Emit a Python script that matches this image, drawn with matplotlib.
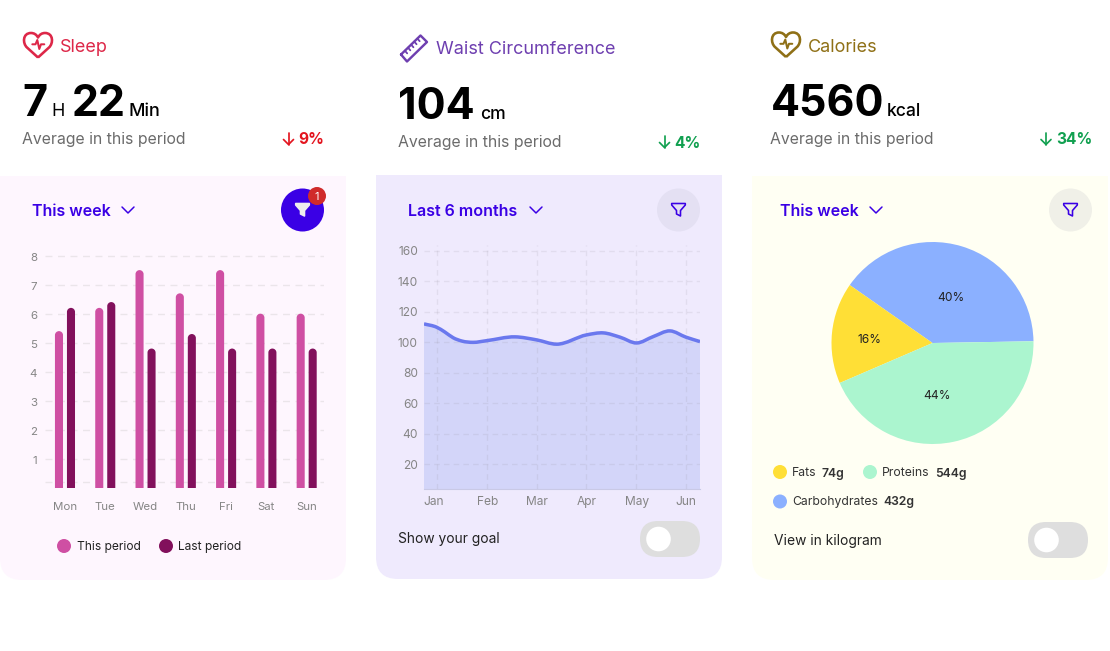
import numpy as np
import matplotlib
matplotlib.use('Agg')
import matplotlib.pyplot as plt
from matplotlib.patches import Circle, FancyBboxPatch, PathPatch, Polygon, Rectangle
from matplotlib.path import Path
from matplotlib.transforms import ScaledTranslation

plt.rcParams['font.family'] = ['Inter', 'DejaVu Sans']

days = ['Mon', 'Tue', 'Wed', 'Thu', 'Fri', 'Sat', 'Sun']
this_period = [5.4, 6.2, 7.5, 6.7, 7.5, 6.0, 6.0]
last_period = [6.2, 6.4, 4.8, 5.3, 4.8, 4.8, 4.8]

months = ['Jan', 'Feb', 'Mar', 'Apr', 'May', 'Jun']
waist_x = [-0.268, -0.012, 0.15, 0.32, 0.5, 0.72, 0.994, 1.563, 2.0, 2.4, 3.006, 3.34, 3.676, 4.012, 4.346, 4.682, 5.004, 5.286]
waist_y = [112.0, 109.8, 106.7, 102.9, 100.7, 99.9, 101.0, 103.5, 101.5, 98.7, 104.8, 106.1, 103.3, 99.5, 103.7, 107.4, 103.3, 100.4]

pie_names = ['Carbohydrates', 'Fats', 'Proteins']
pie_share = [40, 16.2, 43.8]
pie_colors = ['#8BB0FF', '#FFDF36', '#ABF5CF']

W, H = 1110, 651
PINK = '#CF4FA3'
PLUM = '#82105C'
BLUE = '#3A00E5'
GRID = '#EBE5EA'
TICK = '#858585'


def px(v):
    return v * 0.72


fig = plt.figure(figsize=(W / 100, H / 100), dpi=100, facecolor='white')
bg = fig.add_axes([0, 0, 1, 1])
bg.set_xlim(0, W)
bg.set_ylim(H, 0)
bg.axis('off')


def label(x, y, s, size, color='#222222', weight='normal', va='center', ha='left'):
    if va == 'center':
        y = y + 1.5
    bg.text(x, y, s, fontsize=px(size), color=color, fontweight=weight, va=va, ha=ha)


def stroke(points, color, lw=2.0, closed=False):
    pts = np.array(points, dtype=float)
    if closed:
        pts = np.vstack([pts, pts[:1]])
    bg.plot(pts[:, 0], pts[:, 1], color=color, lw=px(lw), solid_capstyle='round', solid_joinstyle='round')


def card(x0, y0, x1, y1, color):
    r = 22
    bg.add_patch(FancyBboxPatch((x0 + r, y0 + r), x1 - x0 - 2 * r, y1 - y0 - 2 * r,
                                boxstyle='round,pad=%d,rounding_size=%d' % (r, r), fc=color, ec='none'))
    bg.add_patch(Rectangle((x0, y0), x1 - x0, 40, fc=color, ec='none'))


def heart(cx, cy, color):
    verts = [(0, 12.5), (-11, 2.5), (-15.5, -1.5), (-15.5, -12), (-7, -12), (-4, -12), (-1.5, -10.5), (0, -7.5),
             (1.5, -10.5), (4, -12), (7, -12), (15.5, -12), (15.5, -1.5), (11, 2.5), (0, 12.5)]
    codes = [Path.MOVETO, Path.LINETO, Path.CURVE4, Path.CURVE4, Path.CURVE4, Path.CURVE4, Path.CURVE4, Path.CURVE4,
             Path.CURVE4, Path.CURVE4, Path.CURVE4, Path.CURVE4, Path.CURVE4, Path.CURVE4, Path.LINETO]
    verts = [(cx + a, cy + b) for a, b in verts]
    bg.add_patch(PathPatch(Path(verts, codes), fc='none', ec=color, lw=px(2.6), joinstyle='round'))
    stroke([(cx - 5.7, cy - 0.7), (cx - 2.5, cy - 0.7), (cx - 0.7, cy - 5), (cx + 1.3, cy + 4), (cx + 3, cy - 0.7),
            (cx + 6.3, cy - 0.7)], color, 2.0)


def ruler(color):
    a, b, c, d = [np.array(p, dtype=float) for p in [(401, 54.5), (420.5, 35.5), (427, 42), (407, 61.5)]]
    stroke([a, b, c, d], color, 2.4, closed=True)
    side = (d - a) / np.linalg.norm(d - a)
    for t in [0.2, 0.36, 0.52, 0.68, 0.84]:
        p = a + (b - a) * t
        stroke([p, p + side * 3.5], color, 1.8)


def chevron(x, y):
    stroke([(x - 6, y - 3), (x, y + 3), (x + 6, y - 3)], BLUE, 1.5)


def arrow(x, y, color):
    stroke([(x, y - 6), (x, y + 6)], color, 1.7)
    stroke([(x - 5, y + 1), (x, y + 6), (x + 5, y + 1)], color, 1.7)


def funnel(cx, cy, fc, ec):
    pts = [(-6.8, -6), (6.8, -6), (6.8, -4.5), (2, 1), (2, 6.5), (-2, 4.5), (-2, 1), (-6.8, -4.5)]
    bg.add_patch(Polygon([(cx + a, cy + b) for a, b in pts], closed=True, fc=fc, ec=ec, lw=px(1.6), joinstyle='round'))


def toggle(x0, y0):
    bg.add_patch(FancyBboxPatch((x0 + 18, y0 + 18), 24, 0, boxstyle='round,pad=18,rounding_size=18', fc='#DEDEDE', ec='none'))
    bg.add_patch(Circle((x0 + 18.5, y0 + 18), 12.3, fc='white', ec='none'))


def header(x, big_y, parts, avg_y, pct, pct_x, arrow_x, pcolor):
    for px_x, text, size, weight in parts:
        label(px_x, big_y, text, size, '#000000', weight, va='baseline')
    label(x, avg_y, 'Average in this period', 15.8, '#6B6B6B')
    label(pct_x, avg_y + 0.5, pct, 15.5, pcolor, 'bold')
    arrow(arrow_x, avg_y + 0.5, pcolor)


def dropdown(x, s, chev_x):
    label(x, 210, s, 16, BLUE, 'semibold')
    chevron(chev_x, 210)


card(0, 176, 346, 580, '#FEF6FE')
card(376, 175, 722, 579, '#EFEAFD')
card(752, 176, 1108, 580, '#FFFFF3')

# top blocks
heart(38, 45, '#DD2748')
label(60, 45.5, 'Sleep', 18, '#DD2748')
header(22, 116, [(22, '7', 43, 'bold'), (51, 'H', 18, 'normal'), (72, '22', 43, 'bold'),
                 (128, 'Min', 18, 'medium')], 138, '9%', 298.3, 288.5, '#E3151F')
ruler('#6E3FB0')
label(436, 48.5, 'Waist Circumference', 18, '#6E3FB0')
header(398, 119, [(398, '104', 43, 'bold'), (480, 'cm', 17.5, 'medium')], 141, '4%', 674.3, 664.5, '#11A050')
heart(786, 44.5, '#8F7016')
label(808, 45.5, 'Calories', 18, '#8F7016')
header(770, 116.5, [(771, '4560', 43, 'bold'), (887, 'kcal', 17.5, 'medium')], 138, '34%', 1056.3, 1046, '#11A050')

dropdown(32, 'This week', 128)
dropdown(408, 'Last 6 months', 536)
dropdown(780, 'This week', 876)

bg.add_patch(Circle((302.5, 210), 21.5, fc=BLUE, ec='none'))
funnel(302.5, 209.5, '#EEEEEE', '#EEEEEE')
bg.add_patch(Circle((317, 196), 9, fc='#D02B2B', ec='none'))
bg.text(317, 196.5, '1', fontsize=px(11), color='white', ha='center', va='center')
bg.add_patch(Circle((678.5, 210), 21.5, fc='#E4E0F3', ec='none'))
funnel(678.5, 209.5, 'none', BLUE)
bg.add_patch(Circle((1070.5, 210), 21.5, fc='#F0F0E8', ec='none'))
funnel(1070.5, 209.5, 'none', BLUE)


def make_axes(left, top, right, bottom):
    ax = fig.add_axes([left / W, 1 - bottom / H, (right - left) / W, (bottom - top) / H])
    ax.patch.set_alpha(0)
    for s in ax.spines.values():
        s.set_visible(False)
    return ax


def shift_labels(labels, dx, dy):
    for lab in labels:
        lab.set_transform(lab.get_transform() + ScaledTranslation(dx / 100, -dy / 100, fig.dpi_scale_trans))


def round_bar(ax, xc, value, width, color):
    # bar with a round top, radius given in data units on both axes
    rx = width / 2
    ry = 0.137
    k = 0.55
    l, r = xc - rx, xc + rx
    top = value - ry
    verts = [(l, 0), (l, top), (l, top + k * ry), (xc - k * rx, value), (xc, value),
             (xc + k * rx, value), (r, top + k * ry), (r, top), (r, 0), (l, 0)]
    codes = [Path.MOVETO, Path.LINETO, Path.CURVE4, Path.CURVE4, Path.CURVE4,
             Path.CURVE4, Path.CURVE4, Path.CURVE4, Path.LINETO, Path.CLOSEPOLY]
    ax.add_patch(PathPatch(Path(verts, codes), fc=color, ec='none', zorder=3))


# sleep bars
ax1 = make_axes(45, 255, 324, 488)
x = np.arange(len(days))
for i in x:
    round_bar(ax1, i - 0.149, this_period[i], 0.2, PINK)
    round_bar(ax1, i + 0.149, last_period[i], 0.2, PLUM)
ax1.set_xlim(-0.496, 6.43)
ax1.set_ylim(0, 8.02)
ax1.set_yticks(range(1, 9))
ax1.set_yticks([0.2], minor=True)
ax1.set_xticks(x, days)
ax1.grid(axis='y', which='both', color=GRID, lw=1, ls=(0, (5, 4)))
ax1.set_axisbelow(True)
ax1.tick_params(which='both', length=0)
ax1.tick_params(axis='y', labelsize=px(11.5), labelcolor=TICK, pad=px(8))
ax1.tick_params(axis='x', labelsize=px(11.5), labelcolor=TICK, pad=px(14))
shift_labels(ax1.get_yticklabels(), 0, 1)

bg.add_patch(Circle((64, 546), 7, fc=PINK, ec='none'))
label(77, 545.5, 'This period', 12)
bg.add_patch(Circle((166, 546), 7, fc=PLUM, ec='none'))
label(178, 545.5, 'Last period', 12)

# waist line, a spline through the read values like the original
ax2 = make_axes(424, 245, 700, 489.3)
wx = np.array(waist_x)
wy = np.array(waist_y)
slope = np.gradient(wy, wx)
verts = [(wx[0], wy[0])]
for i in range(len(wx) - 1):
    h = (wx[i + 1] - wx[i]) / 3
    verts += [(wx[i] + h, wy[i] + slope[i] * h), (wx[i + 1] - h, wy[i + 1] - slope[i + 1] * h), (wx[i + 1], wy[i + 1])]
codes = [Path.MOVETO] + [Path.CURVE4] * (len(verts) - 1)
area = Path(verts + [(wx[-1], 3.6), (wx[0], 3.6), (wx[0], wy[0])],
            codes + [Path.LINETO, Path.LINETO, Path.LINETO])
ax2.add_patch(PathPatch(area, fc='#D3D5F9', ec='none', zorder=1))
ax2.add_patch(PathPatch(Path(verts, codes), fc='none', ec='#6A78EE', lw=px(3.5), zorder=3))
ax2.set_xlim(-0.268, 5.286)
ax2.set_ylim(3.6, 163.7)
ax2.set_xticks(range(6), months)
ax2.set_yticks(range(20, 161, 20))
ax2.grid(color='#88808C', alpha=0.13, lw=1, ls=(0, (4, 3)))
ax2.set_axisbelow(False)
ax2.spines['bottom'].set_visible(True)
ax2.spines['bottom'].set_color('#C9C9E6')
ax2.tick_params(length=0)
ax2.tick_params(axis='y', labelsize=px(12), labelcolor=TICK, pad=px(6))
ax2.tick_params(axis='x', labelsize=px(12), labelcolor=TICK, pad=px(7))
shift_labels(ax2.get_xticklabels()[:1], -3.3, 0)
shift_labels(ax2.get_xticklabels()[1:5], 0.7, 0)

label(398, 538, 'Show your goal', 13.8)
toggle(640, 521)

# calories pie
ax3 = make_axes(831.5, 242, 1033.5, 444)
wedges, _, autos = ax3.pie(pie_share, colors=pie_colors, startangle=1, counterclock=True, radius=1,
                           autopct='%.0f%%', textprops={'fontsize': px(12), 'color': '#222222'})
ax3.set_xlim(-1, 1)
ax3.set_ylim(-1, 1)
for w in wedges:
    w.set_clip_on(False)
autos[0].set_position((0.185, 0.45))
autos[1].set_position((-0.62, 0.03))
autos[2].set_position((0.045, -0.52))

bg.add_patch(Circle((780, 472), 7, fc=pie_colors[1], ec='none'))
label(792, 472, 'Fats', 12.2, '#333333')
label(822, 472, '74g', 12.2, '#333333', 'semibold')
bg.add_patch(Circle((870, 472), 7, fc=pie_colors[2], ec='none'))
label(882, 472, 'Proteins', 12.2, '#333333')
label(935, 472, '544g', 12.2, '#333333', 'semibold')
bg.add_patch(Circle((780, 501.5), 7, fc=pie_colors[0], ec='none'))
label(792, 501, 'Carbohydrates', 12.2, '#333333')
label(883, 501, '432g', 12.2, '#333333', 'semibold')

label(774, 539, 'View in kilogram', 13.8)
toggle(1028, 522)

fig.savefig('out.png', dpi=100)
